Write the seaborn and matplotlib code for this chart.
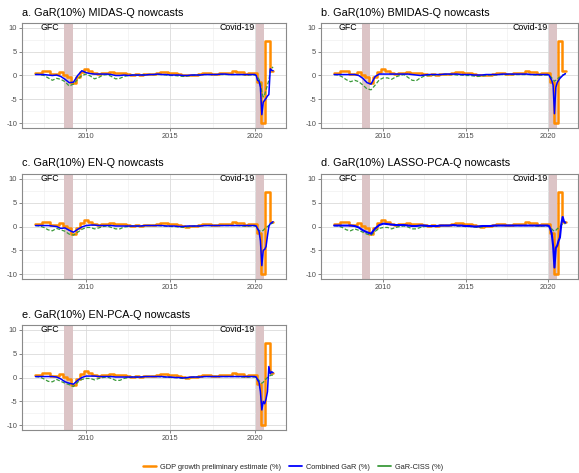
import numpy as np
import pandas as pd
import matplotlib
matplotlib.use("Agg")
import matplotlib.pyplot as plt
import seaborn as sns
from matplotlib.lines import Line2D
from matplotlib.ticker import FixedLocator

sns.set_theme(style="white")
plt.rcParams['font.family'] = ['Liberation Sans', 'DejaVu Sans']

# ---------------- data ----------------
titles = ["a. GaR(10%) MIDAS-Q nowcasts", "b. GaR(10%) BMIDAS-Q nowcasts",
          "c. GaR(10%) EN-Q nowcasts", "d. GaR(10%) LASSO-PCA-Q nowcasts",
          "e. GaR(10%) EN-PCA-Q nowcasts"]

# quarterly GDP growth preliminary estimate (%), 2007Q1 .. 2020Q4
gdp_prelim = [0.5, 1.0, 1.0, 0.3,
              0.4, 0.7, 0.1, -0.3,
              -1.5, -0.4, 0.7, 1.4,
              1.0, 0.6, 0.4, 0.5,
              0.6, 0.7, 0.5, 0.6,
              0.6, 0.4, 0.1, 0.3,
              0.1, 0.4, 0.3, 0.4,
              0.5, 0.8, 0.8, 0.5,
              0.5, 0.3, 0.2, 0.0,
              0.1, 0.2, 0.4, 0.6,
              0.6, 0.3, 0.4, 0.5,
              0.6, 0.5, 0.9, 0.7,
              0.7, 0.4, 0.5, 0.5,
              -1.3, -10.0, 7.3, 1.0]

# nowcast dates: quarterly 2007-2019, monthly 2020 - Jan 2021
q_years = np.arange(2007.0, 2020.0, 0.25)
m_years = 2020 + np.arange(14) / 12
nowcast_years = np.concatenate([q_years, m_years])

combined_a = ([0.2, 0.2, 0.2, 0.1, 0.0, 0.1, -0.2, -0.8, -1.5, -1.4, 0.0, 1.0,
               0.6, 0.4, 0.3, 0.3, 0.3, 0.3, 0.2, 0.0, 0.0, 0.1, 0.0, 0.1]
              + [0.1, 0.1, 0.1, 0.2, 0.2, 0.3, 0.2, 0.2, 0.1, 0.1, 0.1, 0.0, 0.0, 0.1,
                 0.1, 0.1, 0.2, 0.2, 0.2, 0.2, 0.3, 0.3, 0.2, 0.2, 0.2, 0.2, 0.2, 0.2]
              + [0.2, 0.0, -1.0, -1.2, -2.5, -8.2, -5.6, -5.2, -4.8, -4.3, -4.0, 1.4, 1.1, 1.0])
ciss_a = ([0.3, 0.2, 0.0, -0.5, -1.0, -0.6, -0.8, -1.3, -2.2, -1.8, -0.8, 0.0,
           0.3, -0.1, -0.7, -0.4, 0.1, 0.2, -0.2, -0.7, -0.6, -0.2, 0.0, 0.1]
          + [0.1, 0.1, 0.2, 0.2, 0.2, 0.2, 0.2, 0.1, 0.0, 0.0, -0.1, -0.2, -0.1, 0.0,
             0.1, 0.1, 0.2, 0.2, 0.2, 0.2, 0.2, 0.2, 0.2, 0.2, 0.2, 0.2, 0.1, 0.1]
          + [0.1, 0.0, -0.3, -0.8, -1.5, -3.5, -4.5, -4.0, -3.0, -2.0, -1.0, 1.0, 1.5, 1.8])

combined_b = ([0.2, 0.2, 0.2, 0.2, 0.2, 0.2, 0.0, -0.6, -1.5, -1.8, -0.2, 0.3,
               0.3, 0.3, 0.3, 0.3, 0.3, 0.3, 0.3, 0.2, 0.1, 0.0, 0.1, 0.2]
              + [0.2, 0.2, 0.2, 0.3, 0.3, 0.3, 0.3, 0.2, 0.2, 0.2, 0.1, 0.1, 0.1, 0.2,
                 0.2, 0.2, 0.2, 0.3, 0.3, 0.3, 0.3, 0.3, 0.3, 0.3, 0.2, 0.2, 0.2, 0.2]
              + [0.2, 0.1, -0.5, -1.0, -2.0, -8.0, -2.5, -1.5, -1.0, -0.6, -0.3, 0.0, 0.2, 0.4])
ciss_b = ([0.2, 0.1, -0.3, -0.9, -1.3, -1.0, -1.3, -2.0, -2.8, -3.0, -2.0, -0.9,
           -0.5, -0.5, -0.8, -0.3, 0.0, 0.2, -0.4, -1.0, -1.1, -0.5, -0.1, 0.0]
          + [0.1, 0.1, 0.2, 0.2, 0.2, 0.2, 0.1, 0.1, 0.0, 0.0, -0.1, -0.2, -0.1, 0.0,
             0.1, 0.1, 0.2, 0.2, 0.2, 0.2, 0.2, 0.2, 0.2, 0.2, 0.2, 0.1, 0.1, 0.1]
          + [0.1, 0.0, -0.2, -0.5, -0.8, -1.2, -1.0, -0.7, -0.5, -0.3, -0.1, 0.1, 0.2, 0.3])

combined_c = ([0.2, 0.2, 0.2, 0.2, 0.1, 0.0, -0.4, -0.3, -0.8, -1.2, -0.6, -0.1,
               0.2, 0.3, 0.3, 0.2, 0.2, 0.2, 0.2, 0.1, 0.1, 0.1, 0.1, 0.1]
              + [0.1, 0.1, 0.2, 0.2, 0.2, 0.2, 0.2, 0.1, 0.1, 0.1, 0.0, 0.0, 0.1, 0.1,
                 0.1, 0.1, 0.2, 0.2, 0.2, 0.2, 0.2, 0.2, 0.2, 0.2, 0.2, 0.2, 0.2, 0.2]
              + [0.2, 0.1, -0.5, -1.0, -3.0, -8.2, -5.0, -4.8, -4.2, -2.0, 0.0, 0.6, 0.8, 1.0])
ciss_c = ([0.2, 0.1, -0.2, -0.7, -0.9, -0.4, -0.7, -1.0, -1.6, -1.8, -1.2, -0.6,
           -0.2, -0.2, -0.5, -0.3, 0.0, 0.1, -0.2, -0.5, -0.5, -0.1, 0.0, 0.1]
          + [0.1, 0.1, 0.2, 0.2, 0.2, 0.2, 0.1, 0.1, 0.0, 0.0, -0.1, -0.2, -0.1, 0.0,
             0.1, 0.1, 0.2, 0.2, 0.2, 0.2, 0.2, 0.2, 0.2, 0.2, 0.2, 0.1, 0.1, 0.1]
          + [0.1, 0.0, -0.4, -0.8, -1.0, -1.0, -0.8, -0.5, -0.3, 0.0, 0.2, 0.4, 0.6, 0.8])

combined_d = ([0.2, 0.2, 0.2, 0.2, 0.2, 0.1, -0.2, -0.8, -1.2, -1.5, -0.4, 0.3,
               0.6, 0.5, 0.4, 0.3, 0.3, 0.3, 0.2, 0.1, 0.1, 0.2, 0.2, 0.1]
              + [0.1, 0.1, 0.2, 0.2, 0.2, 0.3, 0.2, 0.2, 0.1, 0.1, 0.0, 0.0, 0.1, 0.1,
                 0.1, 0.2, 0.2, 0.2, 0.2, 0.2, 0.2, 0.2, 0.2, 0.2, 0.2, 0.2, 0.2, 0.2]
              + [0.2, 0.1, -0.5, -1.5, -4.0, -8.6, -4.5, -4.0, -3.0, -2.3, 0.5, 2.0, 1.0, 0.8])
ciss_d = ([0.2, 0.1, -0.2, -0.7, -0.9, -0.5, -0.8, -1.2, -1.6, -1.8, -1.0, -0.4,
           -0.2, -0.2, -0.5, -0.2, 0.0, 0.1, -0.1, -0.5, -0.5, -0.2, 0.0, 0.1]
          + [0.1, 0.1, 0.2, 0.2, 0.2, 0.2, 0.1, 0.1, 0.0, 0.0, -0.1, -0.2, -0.1, 0.0,
             0.1, 0.1, 0.2, 0.2, 0.2, 0.2, 0.2, 0.2, 0.2, 0.2, 0.2, 0.1, 0.1, 0.1]
          + [0.1, 0.0, -0.3, -0.5, -0.8, -1.0, -0.8, -0.5, -0.3, 0.0, 0.3, 0.5, 0.6, 0.6])

combined_e = ([0.2, 0.2, 0.2, 0.2, 0.2, 0.1, -0.3, -0.9, -1.2, -1.4, -0.6, 0.0,
               0.3, 0.3, 0.3, 0.2, 0.2, 0.2, 0.2, 0.1, 0.1, 0.1, 0.1, 0.1]
              + [0.1, 0.1, 0.2, 0.2, 0.2, 0.2, 0.2, 0.1, 0.1, 0.0, 0.0, -0.1, 0.0, 0.1,
                 0.1, 0.1, 0.2, 0.2, 0.2, 0.2, 0.2, 0.2, 0.2, 0.2, 0.2, 0.2, 0.2, 0.2]
              + [0.2, 0.1, -0.5, -1.0, -3.0, -6.8, -5.0, -5.5, -4.5, -3.0, 2.3, 0.8, 1.2, 1.0])
ciss_e = ([0.2, 0.1, -0.3, -0.8, -0.9, -0.4, -0.8, -1.2, -1.5, -1.9, -1.0, -0.4,
           -0.2, -0.2, -0.5, -0.2, 0.0, 0.1, -0.2, -0.6, -0.6, -0.2, 0.0, 0.1]
          + [0.1, 0.1, 0.2, 0.2, 0.2, 0.2, 0.1, 0.1, 0.0, 0.0, -0.1, -0.2, -0.1, 0.0,
             0.1, 0.1, 0.2, 0.2, 0.2, 0.2, 0.2, 0.2, 0.2, 0.2, 0.2, 0.1, 0.1, 0.1]
          + [0.1, 0.0, -0.3, -0.6, -1.0, -1.2, -1.0, -0.6, -0.3, 0.0, 0.3, 0.4, 0.5, 0.5])

combined_all = [combined_a, combined_b, combined_c, combined_d, combined_e]
ciss_all = [ciss_a, ciss_b, ciss_c, ciss_d, ciss_e]

episodes = [("GFC", 2008.7, 2009.2, 2008.38), ("Covid-19", 2020.07, 2020.55, 2020.0)]
legend_labels = ["GDP growth preliminary estimate (%)", "Combined GaR (%)", "GaR-CISS (%)"]

C_ORANGE = "#FF8C00"
C_BLUE = "#0000FF"
C_GREEN = "#3A9A3A"
C_SHADE = "#DCC4C6"

# GDP step positions (release-shifted quarters)
gdp_x = np.concatenate([[2007.0], 2007.125 + 0.25 * np.arange(1, len(gdp_prelim)), [2021.1]])
gdp_y = gdp_prelim + [gdp_prelim[-1]]
gdp_df = pd.DataFrame({"year": gdp_x, "gdp": gdp_y})

# ---------------- figure ----------------
W, H = 579, 473
fig = plt.figure(figsize=(W / 100, H / 100), dpi=100)
fig.patch.set_facecolor("white")

col_px = [(22, 286), (321, 578)]
row_top = [23, 174, 325]
ph = 105

for i in range(5):
    r, c = divmod(i, 2)
    x0, x1 = col_px[c]
    top = row_top[r]
    ax = fig.add_axes([x0 / W, 1 - (top + ph) / H, (x1 - x0) / W, ph / H])
    ax.set_facecolor("white")

    for name, s0, s1, tx in episodes:
        ax.axvspan(s0, s1, color=C_SHADE, lw=0, zorder=1)
        ax.text(tx, 10, name, ha="right", va="center", fontsize=6.3, color="black", zorder=5)

    df = pd.DataFrame({"year": nowcast_years, "combined": combined_all[i], "ciss": ciss_all[i]})
    sns.lineplot(data=gdp_df, x="year", y="gdp", ax=ax, color=C_ORANGE, linewidth=1.8,
                 drawstyle="steps-post", zorder=3, estimator=None)
    sns.lineplot(data=df, x="year", y="ciss", ax=ax, color=C_GREEN, linewidth=0.9,
                 linestyle=(0, (3, 1.5)), zorder=4, estimator=None)
    sns.lineplot(data=df, x="year", y="combined", ax=ax, color=C_BLUE,
                 linewidth=1.5 if i == 3 else 1.1, zorder=4, estimator=None)

    ax.set_xlim(2006.2, 2021.85)
    ax.set_ylim(-11, 11)
    ax.xaxis.set_major_locator(FixedLocator([2010, 2015, 2020]))
    ax.xaxis.set_minor_locator(FixedLocator([2007.5, 2012.5, 2017.5]))
    ax.yaxis.set_major_locator(FixedLocator([-10, -5, 0, 5, 10]))
    ax.yaxis.set_minor_locator(FixedLocator([-7.5, -2.5, 2.5, 7.5]))
    ax.set_xticklabels(["2010", "2015", "2020"])
    ax.set_yticklabels(["-10", "-5", "0", "5", "10"])
    ax.grid(which="major", color="#DADADA", linewidth=0.6, zorder=0)
    ax.grid(which="minor", color="#EDEDED", linewidth=0.4, zorder=0)
    ax.set_axisbelow(True)
    ax.tick_params(which="major", length=2, width=0.5, color="#555555",
                   labelsize=5.4, labelcolor="#4D4D4D", pad=1.5, bottom=True, left=True)
    ax.tick_params(which="minor", length=0)
    ax.set_xlabel("")
    ax.set_ylabel("")
    for sp in ax.spines.values():
        sp.set_color("#8A8A8A")
        sp.set_linewidth(0.8)
    fig.text(x0 / W, 1 - (top - 7.5) / H, titles[i], ha="left", va="baseline",
             fontsize=7.8, color="black")

handles = [Line2D([], [], color=C_ORANGE, lw=1.8),
           Line2D([], [], color=C_BLUE, lw=1.3),
           Line2D([], [], color=C_GREEN, lw=1.3)]
fig.legend(handles, legend_labels, loc="center", bbox_to_anchor=(293 / W, 1 - 467 / H),
           ncol=3, frameon=False, fontsize=5.3, handlelength=1.8, handletextpad=0.6,
           columnspacing=1.0)

fig.savefig("out.png", dpi=100, facecolor="white")
